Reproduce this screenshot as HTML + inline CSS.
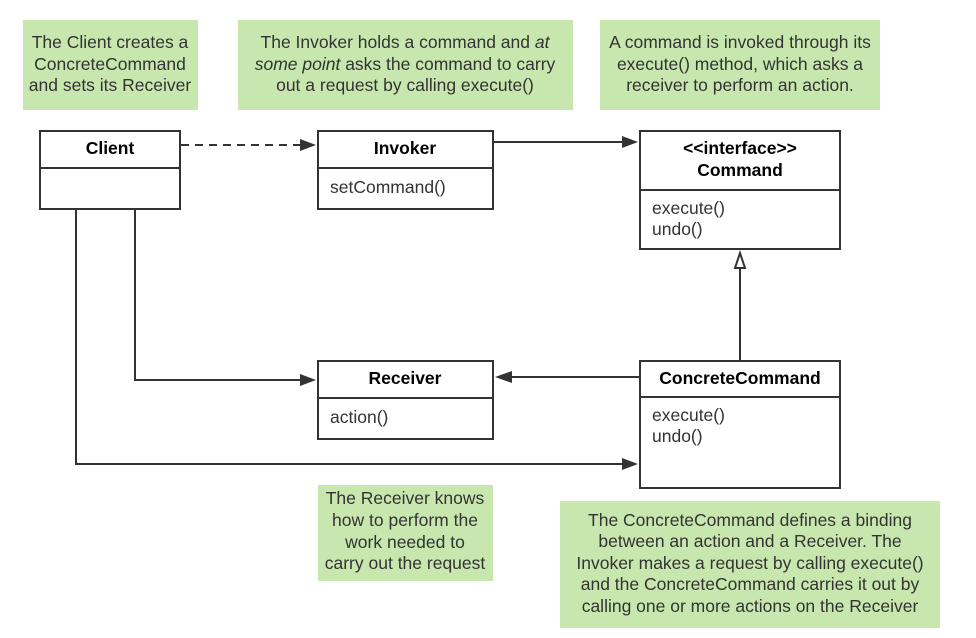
<!DOCTYPE html>
<html><head><meta charset="utf-8"><style>
html,body{margin:0;padding:0;background:#fff;}
svg{display:block;font-family:"Liberation Sans",Arial,sans-serif;}
.n{fill:#333;font-size:17.5px;text-anchor:middle;}
.t{fill:#000;font-size:17.5px;font-weight:bold;text-anchor:middle;}
.m{fill:#333;font-size:17.5px;}
.b{fill:#fff;stroke:#333;stroke-width:2;}
.l{stroke:#333;stroke-width:2;fill:none;}
</style></head><body>
<svg width="976" height="638" viewBox="0 0 976 638">
<g fill="#c7e7af">
<rect x="23" y="20" width="175" height="90"/>
<rect x="238" y="20" width="335" height="90"/>
<rect x="600" y="20" width="280" height="90"/>
<rect x="318" y="485" width="175" height="96"/>
<rect x="560" y="501" width="380" height="127"/>
</g>
<text class="n" x="110" y="48">The Client creates a</text>
<text class="n" x="110" y="70">ConcreteCommand</text>
<text class="n" x="110" y="91">and sets its Receiver</text>
<text class="n" x="405" y="48">The Invoker holds a command and <tspan font-style="italic">at</tspan></text>
<text class="n" x="405" y="70"><tspan font-style="italic">some point</tspan> asks the command to carry</text>
<text class="n" x="405" y="91">out a request by calling execute()</text>
<text class="n" x="740" y="48">A command is invoked through its</text>
<text class="n" x="740" y="70">execute() method, which asks a</text>
<text class="n" x="740" y="91">receiver to perform an action.</text>
<text class="n" x="405" y="504">The Receiver knows</text>
<text class="n" x="405" y="526">how to perform the</text>
<text class="n" x="405" y="548">work needed to</text>
<text class="n" x="405" y="569">carry out the request</text>
<text class="n" x="750" y="526">The ConcreteCommand defines a binding</text>
<text class="n" x="750" y="547">between an action and a Receiver. The</text>
<text class="n" x="750" y="569">Invoker makes a request by calling execute()</text>
<text class="n" x="750" y="590">and the ConcreteCommand carries it out by</text>
<text class="n" x="750" y="612">calling one or more actions on the Receiver</text>

<path class="l" d="M181 145 H300" stroke-dasharray="8,6"/>
<path d="M300 139 L316 145 L300 151Z" fill="#333"/>
<path class="l" d="M494 142 H624"/>
<path d="M622 136 L638 142 L622 148Z" fill="#333"/>
<path class="l" d="M135 209 V380 H300"/>
<path d="M300 374 L316 380 L300 386Z" fill="#333"/>
<path class="l" d="M76 209 V464 H622"/>
<path d="M622 458 L638 464 L622 470Z" fill="#333"/>
<path class="l" d="M640 377 H510"/>
<path d="M512 371 L495 377 L512 383Z" fill="#333"/>
<path class="l" d="M740 361 V268"/>
<path d="M740 253 L745 268 L735 268Z" fill="#fff" stroke="#333" stroke-width="2"/>

<rect class="b" x="40" y="131" width="140" height="78"/>
<line class="l" x1="40" y1="168" x2="180" y2="168"/>
<text class="t" x="110" y="154">Client</text>

<rect class="b" x="318" y="131" width="175" height="78"/>
<line class="l" x1="318" y1="168" x2="493" y2="168"/>
<text class="t" x="405" y="154">Invoker</text>
<text class="m" x="330" y="193">setCommand()</text>

<rect class="b" x="640" y="131" width="200" height="118"/>
<line class="l" x1="640" y1="190" x2="840" y2="190"/>
<text class="t" x="740" y="154">&lt;&lt;interface&gt;&gt;</text>
<text class="t" x="740" y="176">Command</text>
<text class="m" x="652" y="214">execute()</text>
<text class="m" x="652" y="235">undo()</text>

<rect class="b" x="318" y="361" width="175" height="78"/>
<line class="l" x1="318" y1="398" x2="493" y2="398"/>
<text class="t" x="405" y="384">Receiver</text>
<text class="m" x="330" y="423">action()</text>

<rect class="b" x="640" y="361" width="200" height="127"/>
<line class="l" x1="640" y1="397" x2="840" y2="397"/>
<text class="t" x="740" y="384">ConcreteCommand</text>
<text class="m" x="652" y="421">execute()</text>
<text class="m" x="652" y="442">undo()</text>
</svg>
</body></html>
